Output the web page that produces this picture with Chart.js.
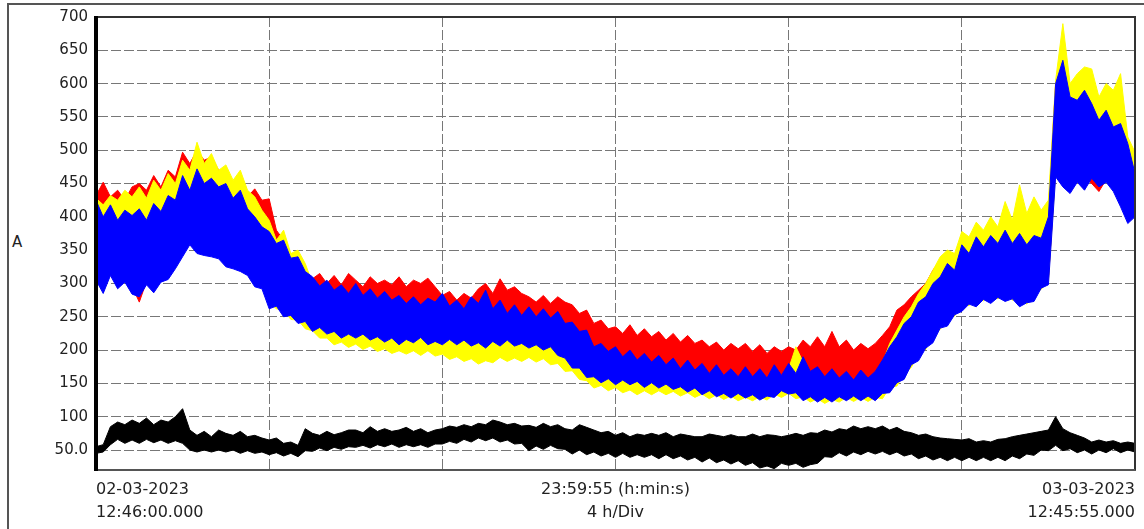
<!DOCTYPE html>
<html>
<head>
<meta charset="utf-8">
<script src="https://cdn.jsdelivr.net/npm/chart.js@4.4.1/dist/chart.umd.min.js"></script>
<style>
  html, body { margin: 0; padding: 0; background: #fff; }
  #wrap { position: relative; width: 1144px; height: 529px; overflow: hidden; }
  #frame { position: absolute; left: 7px; top: 3px; width: 1200px; height: 600px;
           border-left: 2px solid #555; border-top: 2px solid #555; }
  #unit { position: absolute; left: 12px; top: 233px; font: 15px "DejaVu Sans", sans-serif; color: #222; }
  canvas { position: absolute; left: 0; top: 0; }
</style>
</head>
<body>
<div id="wrap">
  <div id="frame"></div>
  <div id="unit">A</div>
  <canvas id="trendChart" width="1144" height="529"></canvas>
</div>
<script>
// one sample every 10 min, 02-03-2023 12:46 -> 03-03-2023 12:46 (hours from start)
const STEP_H = 1 / 6;

// phase currents, max / min of the trace per 10 min (A), one row per hour
const redHi = [
  432, 452, 430, 440, 425, 445,  450, 440, 462, 445, 470, 460,
  497, 480, 500, 485, 490, 470,  460, 445, 440, 430, 442, 425,
  427, 380, 365, 342, 330, 320,  307, 315, 300, 312, 298, 315,
  305, 295, 310, 300, 305, 298,  310, 295, 305, 300, 308, 295,
  282, 288, 275, 285, 278, 292,  300, 285, 307, 290, 295, 285,
  280, 272, 282, 270, 280, 272,  268, 255, 260, 240, 245, 232,
  235, 225, 238, 222, 232, 220,  228, 215, 225, 212, 222, 210,
  215, 205, 212, 200, 210, 202,  210, 198, 208, 195, 205, 198,
  205, 200, 215, 205, 220, 205,  228, 205, 215, 200, 210, 202,
  210, 222, 235, 260, 268, 280,  290, 300, 320, 335, 345, 340,
  365, 362, 375, 368, 385, 375,  385, 378, 392, 380, 390, 395,
  410, 600, 640, 590, 600, 605,  605, 575, 595, 580, 595, 505,
  490
];
const redLo = [
  313, 298, 318, 303, 308, 296,  272, 303, 298, 308, 318, 328,
  353, 363, 358, 348, 353, 343,  338, 328, 333, 318, 308, 298,
  273, 270, 263, 256, 253, 248,  240, 238, 236, 233, 230, 230,
  230, 228, 228, 225, 224, 223,  220, 222, 223, 224, 220, 218,
  220, 221, 220, 220, 218, 216,  215, 218, 218, 220, 218, 215,
  215, 213, 212, 210, 204, 193,  185, 178, 171, 165, 163, 162,
  160, 160, 160, 158, 156, 156,  155, 154, 153, 150, 149, 148,
  145, 144, 142, 140, 140, 140,  140, 138, 137, 136, 141, 144,
  146, 141, 136, 135, 134, 134,  134, 135, 136, 136, 136, 136,
  136, 140, 148, 156, 168, 183,  196, 208, 223, 238, 248, 258,
  271, 274, 278, 281, 283, 284,  286, 282, 278, 276, 286, 298,
  306, 473, 458, 448, 456, 460,  450, 438, 456, 453, 428, 403,
  408
];
const yellowHi = [
  428, 418, 432, 425, 440, 430,  445, 428, 455, 440, 465, 450,
  485, 470, 512, 480, 495, 470,  478, 455, 470, 440, 430, 410,
  395, 365, 380, 345, 350, 330,  300, 290, 298, 285, 292, 280,
  292, 274, 284, 270, 280, 267,  274, 262, 272, 260, 270, 264,
  277, 258, 267, 254, 272, 262,  282, 254, 267, 247, 260, 244,
  257, 242, 254, 240, 250, 232,  234, 220, 222, 197, 202, 190,
  197, 182, 192, 177, 187, 174,  184, 170, 180, 164, 177, 162,
  172, 157, 170, 154, 164, 152,  167, 152, 164, 150, 170, 154,
  172, 205, 182, 160, 167, 152,  164, 150, 160, 147, 162, 150,
  160, 180, 210, 230, 250, 265,  285, 300, 320, 340, 350, 345,
  378, 370, 392, 380, 400, 385,  423, 395, 448, 405, 430, 410,
  425, 605, 690, 600, 615, 625,  622, 580, 600, 590, 615, 520,
  497
];
const yellowLo = [
  315, 300, 318, 305, 310, 298,  292, 305, 300, 310, 320, 330,
  355, 365, 360, 350, 355, 345,  340, 330, 335, 320, 310, 300,
  272, 262, 260, 246, 245, 232,  229, 218, 218, 208, 212, 204,
  209, 201, 206, 198, 202, 195,  199, 194, 199, 192, 199, 191,
  194, 186, 190, 183, 187, 179,  184, 181, 189, 183, 188, 183,
  189, 182, 187, 178, 180, 168,  169, 156, 154, 143, 147, 139,
  144, 136, 140, 133, 139, 133,  139, 133, 138, 131, 136, 129,
  134, 127, 133, 126, 131, 124,  129, 124, 130, 125, 134, 129,
  135, 127, 130, 122, 127, 120,  126, 122, 129, 123, 129, 123,
  129, 127, 144, 146, 164, 174,  195, 201, 222, 231, 247, 251,
  270, 267, 277, 274, 282, 277,  285, 275, 277, 269, 285, 291,
  305, 466, 457, 441, 455, 453,  462, 451, 455, 446, 427, 396,
  405
];
const blueHi = [
  425, 400, 418, 395, 410, 402,  412, 395, 420, 408, 432, 425,
  462, 440, 472, 450, 458, 445,  450, 428, 440, 412, 400, 385,
  378, 360, 365, 338, 340, 318,  310, 296, 305, 290, 298, 285,
  300, 282, 292, 278, 288, 275,  282, 270, 280, 268, 278, 272,
  285, 266, 275, 262, 280, 270,  290, 262, 275, 255, 268, 252,
  265, 250, 262, 248, 258, 240,  242, 228, 230, 205, 210, 198,
  205, 190, 200, 185, 195, 182,  192, 178, 188, 172, 185, 170,
  180, 165, 178, 162, 172, 160,  175, 160, 172, 158, 178, 162,
  180, 165, 190, 168, 175, 160,  172, 158, 168, 155, 170, 158,
  168, 185, 205, 220, 240, 250,  272, 280, 300, 310, 330, 320,
  358, 345, 370, 355, 372, 360,  380, 360, 375, 358, 372, 368,
  400, 600, 635, 580, 575, 590,  570, 545, 560, 535, 540, 510,
  465
];
const blueLo = [
  305, 285, 312, 292, 302, 284,  280, 298, 286, 302, 306, 322,
  340, 358, 345, 342, 340, 337,  325, 322, 318, 312, 295, 292,
  262, 266, 250, 252, 240, 243,  228, 234, 224, 228, 218, 224,
  218, 224, 215, 220, 212, 218,  208, 216, 211, 219, 208, 213,
  208, 216, 208, 215, 206, 211,  203, 213, 206, 215, 206, 210,
  203, 208, 200, 205, 192, 188,  173, 173, 159, 160, 151, 157,
  148, 155, 148, 153, 144, 151,  143, 149, 141, 145, 137, 143,
  133, 139, 130, 135, 128, 135,  128, 133, 125, 131, 129, 139,
  134, 136, 124, 130, 122, 129,  122, 130, 124, 131, 124, 131,
  124, 135, 136, 151, 156, 178,  184, 203, 211, 233, 236, 253,
  258, 269, 265, 276, 270, 279,  273, 277, 265, 271, 273, 293,
  298, 460, 445, 435, 452, 440,  458, 445, 452, 438, 415, 390,
  400
];
// neutral current
const blackHi = [
  55, 58, 85, 92, 88, 95,  90, 98, 88, 95, 92, 100,
  112, 80, 72, 78, 70, 80,  75, 72, 78, 70, 72, 68,
  65, 68, 60, 62, 57, 82,  75, 72, 78, 73, 76, 80,
  80, 76, 85, 78, 82, 78,  80, 84, 78, 82, 76, 80,
  82, 86, 84, 88, 85, 90,  88, 95, 92, 88, 90, 86,
  87, 84, 90, 85, 88, 82,  80, 88, 84, 80, 76, 78,
  72, 76, 70, 74, 72, 75,  72, 76, 70, 74, 72, 70,
  70, 74, 72, 70, 73, 70,  70, 74, 70, 73, 72, 70,
  72, 75, 72, 76, 75, 80,  77, 82, 80, 86, 82, 85,
  82, 86, 80, 84, 78, 76,  72, 74, 70, 68, 67, 66,
  65, 67, 62, 64, 62, 66,  67, 70, 72, 74, 76, 78,
  80, 100, 82, 76, 72, 68,  62, 65, 62, 64, 60, 62,
  60
];
const blackLo = [
  45, 47, 58, 66, 60, 65,  60, 66, 61, 65, 60, 64,
  60, 50, 47, 50, 47, 50,  47, 50, 45, 49, 45, 47,
  43, 46, 41, 45, 40, 49,  48, 53, 49, 54, 51, 55,
  54, 57, 53, 58, 55, 59,  54, 58, 55, 58, 54, 59,
  59, 63, 60, 66, 62, 68,  64, 68, 62, 65, 59, 60,
  49, 56, 51, 57, 52, 51,  44, 50, 43, 47, 41, 45,
  39, 45, 39, 43, 39, 43,  37, 43, 37, 41, 35, 39,
  32, 38, 31, 35, 29, 34,  27, 31, 23, 26, 22, 30,
  27, 30, 24, 28, 30, 40,  39, 46, 41, 47, 43, 48,
  44, 48, 43, 47, 41, 44,  37, 41, 35, 39, 34, 39,
  34, 39, 34, 39, 34, 39,  34, 41, 37, 44, 42, 50,
  49, 57, 49, 52, 46, 50,  44, 50, 46, 52, 46, 50,
  47
];

const yTicks = [50, 100, 150, 200, 250, 300, 350, 400, 450, 500, 550, 600, 650, 700];
const yTickLabels = ["50.0", "100", "150", "200", "250", "300", "350", "400", "450", "500", "550", "600", "650", "700"];
const xTicks = [0, 4, 8, 12, 16, 20, 24];
const xTickLabels = [
  ["02-03-2023", "12:46:00.000"], "", "",
  ["23:59:55 (h:min:s)", "4 h/Div"], "", "",
  ["03-03-2023", "12:45:55.000"]
];

const times = blueHi.map((_, i) => i * STEP_H);
const pts = vals => vals.map((v, i) => ({ x: times[i], y: v }));

// each phase = max edge filled down to min edge
function band(color, hi, lo) {
  return [
    { data: pts(hi), borderColor: color, backgroundColor: color, borderWidth: 1, fill: "+1" },
    { data: pts(lo), borderColor: color, borderWidth: 1, fill: false }
  ];
}

// plot frame on top of the traces
const framePlugin = {
  id: "frame",
  afterDatasetsDraw(chart) {
    const { ctx, chartArea: a } = chart;
    ctx.save();
    ctx.strokeStyle = "#333";
    ctx.lineWidth = 2;
    ctx.beginPath();
    ctx.moveTo(a.left, a.top);
    ctx.lineTo(a.right, a.top);
    ctx.lineTo(a.right, a.bottom);
    ctx.stroke();
    ctx.strokeStyle = "#555";
    ctx.beginPath();
    ctx.moveTo(a.left, a.bottom);
    ctx.lineTo(a.right, a.bottom);
    ctx.stroke();
    ctx.strokeStyle = "#000";
    ctx.lineWidth = 4;
    ctx.beginPath();
    ctx.moveTo(a.left, a.top - 1);
    ctx.lineTo(a.left, a.bottom + 1);
    ctx.stroke();
    ctx.restore();
  }
};

new Chart(document.getElementById("trendChart"), {
  type: "line",
  data: {
    datasets: [
      ...band("#000000", blackHi, blackLo),
      ...band("#0000ff", blueHi, blueLo),
      ...band("#ffff00", yellowHi, yellowLo),
      ...band("#ff0000", redHi, redLo)
    ]
  },
  options: {
    responsive: false,
    animation: false,
    devicePixelRatio: 1,
    elements: { point: { radius: 0 }, line: { tension: 0 } },
    layout: { padding: { left: 0, top: 14, right: 2, bottom: 0 } },
    plugins: { legend: { display: false }, tooltip: { enabled: false } },
    scales: {
      x: {
        type: "linear",
        min: 0,
        max: 24,
        afterBuildTicks: axis => { axis.ticks = xTicks.map(v => ({ value: v })); },
        afterFit: axis => { axis.height = 59; },
        grid: { color: "#777", lineWidth: 1, drawTicks: false },
        border: { color: "#555", width: 2, dash: [10, 3] },
        ticks: {
          autoSkip: false,
          maxRotation: 0,
          align: "inner",
          padding: 9,
          color: "#222",
          font: { family: "DejaVu Sans", size: 16, lineHeight: 1.4 },
          callback: (v, i) => xTickLabels[i]
        }
      },
      y: {
        min: 20,
        max: 700,
        afterBuildTicks: axis => { axis.ticks = yTicks.map(v => ({ value: v })); },
        afterFit: axis => { axis.width = 96; },
        grid: { color: "#777", lineWidth: 1, drawTicks: false },
        border: { color: "#000", width: 3, dash: [10, 3] },
        ticks: {
          padding: 8,
          color: "#222",
          font: { family: "DejaVu Sans", size: 15 },
          callback: (v, i) => yTickLabels[i]
        }
      }
    }
  },
  plugins: [framePlugin]
});
</script>
</body>
</html>
